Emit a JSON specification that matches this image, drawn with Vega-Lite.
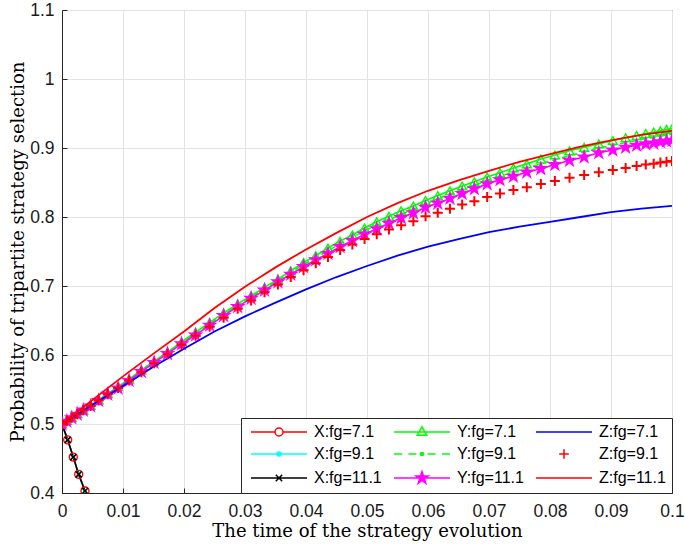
{
"$schema": "https://vega.github.io/schema/vega-lite/v6.json",
"width": 610, "height": 483,
"autosize": "none",
"padding": {"left": 62, "top": 10, "right": 13, "bottom": 54},
"background": "white",
"data": {"values": [
{"s":"X:fg=7.1","x":0,"y":0.5},{"s":"X:fg=7.1","x":0.00093,"y":0.477},{"s":"X:fg=7.1","x":0.00185,"y":0.452},{"s":"X:fg=7.1","x":0.00274,"y":0.427},{"s":"X:fg=7.1","x":0.00377,"y":0.403},
{"s":"X:fg=9.1","x":0,"y":0.5},{"s":"X:fg=9.1","x":0.00093,"y":0.477},{"s":"X:fg=9.1","x":0.00185,"y":0.452},{"s":"X:fg=9.1","x":0.00274,"y":0.427},{"s":"X:fg=9.1","x":0.00377,"y":0.403},
{"s":"X:fg=11.1","x":0,"y":0.5},{"s":"X:fg=11.1","x":0.00093,"y":0.477},{"s":"X:fg=11.1","x":0.00185,"y":0.452},{"s":"X:fg=11.1","x":0.00274,"y":0.427},{"s":"X:fg=11.1","x":0.00377,"y":0.403},
{"s":"Y:fg=7.1","x":0,"y":0.5},{"s":"Y:fg=7.1","x":0.0008,"y":0.505},{"s":"Y:fg=7.1","x":0.0016,"y":0.509},{"s":"Y:fg=7.1","x":0.0025,"y":0.515},{"s":"Y:fg=7.1","x":0.0035,"y":0.52},{"s":"Y:fg=7.1","x":0.0047,"y":0.527},{"s":"Y:fg=7.1","x":0.006,"y":0.535},{"s":"Y:fg=7.1","x":0.0075,"y":0.544},{"s":"Y:fg=7.1","x":0.0092,"y":0.554},{"s":"Y:fg=7.1","x":0.011,"y":0.565},{"s":"Y:fg=7.1","x":0.013,"y":0.578},{"s":"Y:fg=7.1","x":0.0151,"y":0.591},{"s":"Y:fg=7.1","x":0.0173,"y":0.604},{"s":"Y:fg=7.1","x":0.0196,"y":0.619},{"s":"Y:fg=7.1","x":0.0219,"y":0.633},{"s":"Y:fg=7.1","x":0.0242,"y":0.647},{"s":"Y:fg=7.1","x":0.0265,"y":0.661},{"s":"Y:fg=7.1","x":0.0288,"y":0.674},{"s":"Y:fg=7.1","x":0.031,"y":0.686},{"s":"Y:fg=7.1","x":0.0332,"y":0.698},{"s":"Y:fg=7.1","x":0.0354,"y":0.71},{"s":"Y:fg=7.1","x":0.0375,"y":0.722},{"s":"Y:fg=7.1","x":0.0396,"y":0.734},{"s":"Y:fg=7.1","x":0.0416,"y":0.744},{"s":"Y:fg=7.1","x":0.0436,"y":0.755},{"s":"Y:fg=7.1","x":0.0456,"y":0.765},{"s":"Y:fg=7.1","x":0.0476,"y":0.774},{"s":"Y:fg=7.1","x":0.0496,"y":0.784},{"s":"Y:fg=7.1","x":0.0516,"y":0.793},{"s":"Y:fg=7.1","x":0.0536,"y":0.801},{"s":"Y:fg=7.1","x":0.0556,"y":0.809},{"s":"Y:fg=7.1","x":0.0576,"y":0.816},{"s":"Y:fg=7.1","x":0.0596,"y":0.824},{"s":"Y:fg=7.1","x":0.0616,"y":0.831},{"s":"Y:fg=7.1","x":0.0636,"y":0.838},{"s":"Y:fg=7.1","x":0.0656,"y":0.845},{"s":"Y:fg=7.1","x":0.0676,"y":0.851},{"s":"Y:fg=7.1","x":0.0697,"y":0.858},{"s":"Y:fg=7.1","x":0.0718,"y":0.864},{"s":"Y:fg=7.1","x":0.074,"y":0.871},{"s":"Y:fg=7.1","x":0.0762,"y":0.877},{"s":"Y:fg=7.1","x":0.0785,"y":0.884},{"s":"Y:fg=7.1","x":0.0808,"y":0.89},{"s":"Y:fg=7.1","x":0.0832,"y":0.896},{"s":"Y:fg=7.1","x":0.0856,"y":0.901},{"s":"Y:fg=7.1","x":0.088,"y":0.906},{"s":"Y:fg=7.1","x":0.0903,"y":0.911},{"s":"Y:fg=7.1","x":0.0924,"y":0.915},{"s":"Y:fg=7.1","x":0.0942,"y":0.918},{"s":"Y:fg=7.1","x":0.0957,"y":0.921},{"s":"Y:fg=7.1","x":0.097,"y":0.923},{"s":"Y:fg=7.1","x":0.0981,"y":0.925},{"s":"Y:fg=7.1","x":0.0991,"y":0.927},{"s":"Y:fg=7.1","x":0.1,"y":0.928},
{"s":"Y:fg=9.1","x":0,"y":0.5},{"s":"Y:fg=9.1","x":0.0008,"y":0.505},{"s":"Y:fg=9.1","x":0.0016,"y":0.509},{"s":"Y:fg=9.1","x":0.0025,"y":0.515},{"s":"Y:fg=9.1","x":0.0035,"y":0.52},{"s":"Y:fg=9.1","x":0.0047,"y":0.527},{"s":"Y:fg=9.1","x":0.006,"y":0.535},{"s":"Y:fg=9.1","x":0.0075,"y":0.544},{"s":"Y:fg=9.1","x":0.0092,"y":0.553},{"s":"Y:fg=9.1","x":0.011,"y":0.564},{"s":"Y:fg=9.1","x":0.013,"y":0.577},{"s":"Y:fg=9.1","x":0.0151,"y":0.59},{"s":"Y:fg=9.1","x":0.0173,"y":0.603},{"s":"Y:fg=9.1","x":0.0196,"y":0.618},{"s":"Y:fg=9.1","x":0.0219,"y":0.631},{"s":"Y:fg=9.1","x":0.0242,"y":0.645},{"s":"Y:fg=9.1","x":0.0265,"y":0.659},{"s":"Y:fg=9.1","x":0.0288,"y":0.672},{"s":"Y:fg=9.1","x":0.031,"y":0.684},{"s":"Y:fg=9.1","x":0.0332,"y":0.696},{"s":"Y:fg=9.1","x":0.0354,"y":0.708},{"s":"Y:fg=9.1","x":0.0375,"y":0.72},{"s":"Y:fg=9.1","x":0.0396,"y":0.731},{"s":"Y:fg=9.1","x":0.0416,"y":0.741},{"s":"Y:fg=9.1","x":0.0436,"y":0.751},{"s":"Y:fg=9.1","x":0.0456,"y":0.761},{"s":"Y:fg=9.1","x":0.0476,"y":0.77},{"s":"Y:fg=9.1","x":0.0496,"y":0.78},{"s":"Y:fg=9.1","x":0.0516,"y":0.788},{"s":"Y:fg=9.1","x":0.0536,"y":0.796},{"s":"Y:fg=9.1","x":0.0556,"y":0.804},{"s":"Y:fg=9.1","x":0.0576,"y":0.811},{"s":"Y:fg=9.1","x":0.0596,"y":0.819},{"s":"Y:fg=9.1","x":0.0616,"y":0.826},{"s":"Y:fg=9.1","x":0.0636,"y":0.833},{"s":"Y:fg=9.1","x":0.0656,"y":0.84},{"s":"Y:fg=9.1","x":0.0676,"y":0.846},{"s":"Y:fg=9.1","x":0.0697,"y":0.853},{"s":"Y:fg=9.1","x":0.0718,"y":0.859},{"s":"Y:fg=9.1","x":0.074,"y":0.865},{"s":"Y:fg=9.1","x":0.0762,"y":0.871},{"s":"Y:fg=9.1","x":0.0785,"y":0.877},{"s":"Y:fg=9.1","x":0.0808,"y":0.883},{"s":"Y:fg=9.1","x":0.0832,"y":0.889},{"s":"Y:fg=9.1","x":0.0856,"y":0.894},{"s":"Y:fg=9.1","x":0.088,"y":0.9},{"s":"Y:fg=9.1","x":0.0903,"y":0.904},{"s":"Y:fg=9.1","x":0.0924,"y":0.908},{"s":"Y:fg=9.1","x":0.0942,"y":0.911},{"s":"Y:fg=9.1","x":0.0957,"y":0.914},{"s":"Y:fg=9.1","x":0.097,"y":0.915},{"s":"Y:fg=9.1","x":0.0981,"y":0.917},{"s":"Y:fg=9.1","x":0.0991,"y":0.919},{"s":"Y:fg=9.1","x":0.1,"y":0.92},
{"s":"Y:fg=11.1","x":0,"y":0.5},{"s":"Y:fg=11.1","x":0.0008,"y":0.504},{"s":"Y:fg=11.1","x":0.0016,"y":0.509},{"s":"Y:fg=11.1","x":0.0025,"y":0.514},{"s":"Y:fg=11.1","x":0.0035,"y":0.52},{"s":"Y:fg=11.1","x":0.0047,"y":0.526},{"s":"Y:fg=11.1","x":0.006,"y":0.534},{"s":"Y:fg=11.1","x":0.0075,"y":0.543},{"s":"Y:fg=11.1","x":0.0092,"y":0.552},{"s":"Y:fg=11.1","x":0.011,"y":0.563},{"s":"Y:fg=11.1","x":0.013,"y":0.576},{"s":"Y:fg=11.1","x":0.0151,"y":0.589},{"s":"Y:fg=11.1","x":0.0173,"y":0.602},{"s":"Y:fg=11.1","x":0.0196,"y":0.616},{"s":"Y:fg=11.1","x":0.0219,"y":0.629},{"s":"Y:fg=11.1","x":0.0242,"y":0.643},{"s":"Y:fg=11.1","x":0.0265,"y":0.657},{"s":"Y:fg=11.1","x":0.0288,"y":0.67},{"s":"Y:fg=11.1","x":0.031,"y":0.682},{"s":"Y:fg=11.1","x":0.0332,"y":0.694},{"s":"Y:fg=11.1","x":0.0354,"y":0.706},{"s":"Y:fg=11.1","x":0.0375,"y":0.717},{"s":"Y:fg=11.1","x":0.0396,"y":0.728},{"s":"Y:fg=11.1","x":0.0416,"y":0.738},{"s":"Y:fg=11.1","x":0.0436,"y":0.747},{"s":"Y:fg=11.1","x":0.0456,"y":0.757},{"s":"Y:fg=11.1","x":0.0476,"y":0.766},{"s":"Y:fg=11.1","x":0.0496,"y":0.775},{"s":"Y:fg=11.1","x":0.0516,"y":0.783},{"s":"Y:fg=11.1","x":0.0536,"y":0.791},{"s":"Y:fg=11.1","x":0.0556,"y":0.799},{"s":"Y:fg=11.1","x":0.0576,"y":0.806},{"s":"Y:fg=11.1","x":0.0596,"y":0.814},{"s":"Y:fg=11.1","x":0.0616,"y":0.82},{"s":"Y:fg=11.1","x":0.0636,"y":0.827},{"s":"Y:fg=11.1","x":0.0656,"y":0.834},{"s":"Y:fg=11.1","x":0.0676,"y":0.841},{"s":"Y:fg=11.1","x":0.0697,"y":0.848},{"s":"Y:fg=11.1","x":0.0718,"y":0.854},{"s":"Y:fg=11.1","x":0.074,"y":0.859},{"s":"Y:fg=11.1","x":0.0762,"y":0.865},{"s":"Y:fg=11.1","x":0.0785,"y":0.87},{"s":"Y:fg=11.1","x":0.0808,"y":0.876},{"s":"Y:fg=11.1","x":0.0832,"y":0.882},{"s":"Y:fg=11.1","x":0.0856,"y":0.887},{"s":"Y:fg=11.1","x":0.088,"y":0.893},{"s":"Y:fg=11.1","x":0.0903,"y":0.897},{"s":"Y:fg=11.1","x":0.0924,"y":0.901},{"s":"Y:fg=11.1","x":0.0942,"y":0.904},{"s":"Y:fg=11.1","x":0.0957,"y":0.906},{"s":"Y:fg=11.1","x":0.097,"y":0.907},{"s":"Y:fg=11.1","x":0.0981,"y":0.909},{"s":"Y:fg=11.1","x":0.0991,"y":0.91},{"s":"Y:fg=11.1","x":0.1,"y":0.911},
{"s":"Z:fg=9.1","x":0,"y":0.5},{"s":"Z:fg=9.1","x":0.0008,"y":0.504},{"s":"Z:fg=9.1","x":0.0016,"y":0.509},{"s":"Z:fg=9.1","x":0.0025,"y":0.514},{"s":"Z:fg=9.1","x":0.0035,"y":0.52},{"s":"Z:fg=9.1","x":0.0047,"y":0.526},{"s":"Z:fg=9.1","x":0.006,"y":0.534},{"s":"Z:fg=9.1","x":0.0075,"y":0.543},{"s":"Z:fg=9.1","x":0.0092,"y":0.552},{"s":"Z:fg=9.1","x":0.011,"y":0.563},{"s":"Z:fg=9.1","x":0.013,"y":0.575},{"s":"Z:fg=9.1","x":0.0151,"y":0.588},{"s":"Z:fg=9.1","x":0.0173,"y":0.601},{"s":"Z:fg=9.1","x":0.0196,"y":0.615},{"s":"Z:fg=9.1","x":0.0219,"y":0.628},{"s":"Z:fg=9.1","x":0.0242,"y":0.641},{"s":"Z:fg=9.1","x":0.0265,"y":0.654},{"s":"Z:fg=9.1","x":0.0288,"y":0.667},{"s":"Z:fg=9.1","x":0.031,"y":0.679},{"s":"Z:fg=9.1","x":0.0332,"y":0.691},{"s":"Z:fg=9.1","x":0.0354,"y":0.702},{"s":"Z:fg=9.1","x":0.0375,"y":0.713},{"s":"Z:fg=9.1","x":0.0396,"y":0.723},{"s":"Z:fg=9.1","x":0.0416,"y":0.733},{"s":"Z:fg=9.1","x":0.0436,"y":0.742},{"s":"Z:fg=9.1","x":0.0456,"y":0.752},{"s":"Z:fg=9.1","x":0.0476,"y":0.76},{"s":"Z:fg=9.1","x":0.0496,"y":0.768},{"s":"Z:fg=9.1","x":0.0516,"y":0.775},{"s":"Z:fg=9.1","x":0.0536,"y":0.782},{"s":"Z:fg=9.1","x":0.0556,"y":0.788},{"s":"Z:fg=9.1","x":0.0576,"y":0.794},{"s":"Z:fg=9.1","x":0.0596,"y":0.801},{"s":"Z:fg=9.1","x":0.0616,"y":0.806},{"s":"Z:fg=9.1","x":0.0636,"y":0.812},{"s":"Z:fg=9.1","x":0.0656,"y":0.818},{"s":"Z:fg=9.1","x":0.0676,"y":0.823},{"s":"Z:fg=9.1","x":0.0697,"y":0.829},{"s":"Z:fg=9.1","x":0.0718,"y":0.834},{"s":"Z:fg=9.1","x":0.074,"y":0.839},{"s":"Z:fg=9.1","x":0.0762,"y":0.843},{"s":"Z:fg=9.1","x":0.0785,"y":0.848},{"s":"Z:fg=9.1","x":0.0808,"y":0.852},{"s":"Z:fg=9.1","x":0.0832,"y":0.857},{"s":"Z:fg=9.1","x":0.0856,"y":0.861},{"s":"Z:fg=9.1","x":0.088,"y":0.865},{"s":"Z:fg=9.1","x":0.0903,"y":0.868},{"s":"Z:fg=9.1","x":0.0924,"y":0.871},{"s":"Z:fg=9.1","x":0.0942,"y":0.874},{"s":"Z:fg=9.1","x":0.0957,"y":0.876},{"s":"Z:fg=9.1","x":0.097,"y":0.877},{"s":"Z:fg=9.1","x":0.0981,"y":0.879},{"s":"Z:fg=9.1","x":0.0991,"y":0.88},{"s":"Z:fg=9.1","x":0.1,"y":0.881},
{"s":"Z:fg=7.1","x":0,"y":0.5},{"s":"Z:fg=7.1","x":0.005,"y":0.528},{"s":"Z:fg=7.1","x":0.01,"y":0.555},{"s":"Z:fg=7.1","x":0.015,"y":0.583},{"s":"Z:fg=7.1","x":0.02,"y":0.609},{"s":"Z:fg=7.1","x":0.025,"y":0.634},{"s":"Z:fg=7.1","x":0.03,"y":0.656},{"s":"Z:fg=7.1","x":0.035,"y":0.676},{"s":"Z:fg=7.1","x":0.04,"y":0.695},{"s":"Z:fg=7.1","x":0.045,"y":0.713},{"s":"Z:fg=7.1","x":0.05,"y":0.729},{"s":"Z:fg=7.1","x":0.055,"y":0.744},{"s":"Z:fg=7.1","x":0.06,"y":0.757},{"s":"Z:fg=7.1","x":0.065,"y":0.768},{"s":"Z:fg=7.1","x":0.07,"y":0.778},{"s":"Z:fg=7.1","x":0.075,"y":0.786},{"s":"Z:fg=7.1","x":0.08,"y":0.793},{"s":"Z:fg=7.1","x":0.085,"y":0.8},{"s":"Z:fg=7.1","x":0.09,"y":0.807},{"s":"Z:fg=7.1","x":0.095,"y":0.812},{"s":"Z:fg=7.1","x":0.1,"y":0.816},
{"s":"Z:fg=11.1","x":0,"y":0.5},{"s":"Z:fg=11.1","x":0.005,"y":0.535},{"s":"Z:fg=11.1","x":0.01,"y":0.569},{"s":"Z:fg=11.1","x":0.015,"y":0.602},{"s":"Z:fg=11.1","x":0.02,"y":0.634},{"s":"Z:fg=11.1","x":0.025,"y":0.668},{"s":"Z:fg=11.1","x":0.03,"y":0.699},{"s":"Z:fg=11.1","x":0.035,"y":0.727},{"s":"Z:fg=11.1","x":0.04,"y":0.753},{"s":"Z:fg=11.1","x":0.045,"y":0.777},{"s":"Z:fg=11.1","x":0.05,"y":0.8},{"s":"Z:fg=11.1","x":0.055,"y":0.82},{"s":"Z:fg=11.1","x":0.06,"y":0.838},{"s":"Z:fg=11.1","x":0.065,"y":0.853},{"s":"Z:fg=11.1","x":0.07,"y":0.867},{"s":"Z:fg=11.1","x":0.075,"y":0.88},{"s":"Z:fg=11.1","x":0.08,"y":0.891},{"s":"Z:fg=11.1","x":0.085,"y":0.902},{"s":"Z:fg=11.1","x":0.09,"y":0.911},{"s":"Z:fg=11.1","x":0.095,"y":0.919},{"s":"Z:fg=11.1","x":0.1,"y":0.925}
]},
"encoding": {
  "x": {"field": "x", "type": "quantitative", "scale": {"domain": [0, 0.1], "nice": false, "zero": false},
        "axis": {"values": [0,0.01,0.02,0.03,0.04,0.05,0.06,0.07,0.08,0.09,0.1], "format": "~g", "title": "The time of the strategy evolution", "grid": true, "labelPadding": 14, "titlePadding": 3}},
  "y": {"field": "y", "type": "quantitative", "scale": {"domain": [0.4, 1.1], "nice": false, "zero": false},
        "axis": {"values": [0.4,0.5,0.6,0.7,0.8,0.9,1,1.1], "format": "~g", "title": "Probability of tripartite strategy selection", "grid": true, "labelPadding": 13, "titlePadding": 2}}
},
"layer": [
  {"transform": [{"filter": {"field": "s", "equal": "X:fg=7.1"}}], "mark": {"type": "line", "strokeWidth": 1.6, "clip": true, "color": "#ff0000"}},
  {"transform": [{"filter": {"field": "s", "equal": "X:fg=9.1"}}], "mark": {"type": "line", "strokeWidth": 1.6, "clip": true, "color": "#00ffff"}},
  {"transform": [{"filter": {"field": "s", "equal": "X:fg=11.1"}}], "mark": {"type": "line", "strokeWidth": 1.6, "clip": true, "color": "#000000"}},
  {"transform": [{"filter": {"field": "s", "equal": "X:fg=7.1"}}], "mark": {"type": "point", "shape": "circle", "size": 64, "filled": false, "strokeWidth": 1.4, "opacity": 1, "clip": true, "color": "#ff0000"}},
  {"transform": [{"filter": {"field": "s", "equal": "X:fg=9.1"}}], "mark": {"type": "point", "shape": "circle", "size": 16, "filled": true, "opacity": 1, "clip": true, "color": "#00ffff"}},
  {"transform": [{"filter": {"field": "s", "equal": "X:fg=11.1"}}], "mark": {"type": "point", "shape": "M-1,-1L1,1M1,-1L-1,1", "size": 36, "filled": false, "strokeWidth": 1.5, "opacity": 1, "clip": true, "color": "#000000"}},
  {"transform": [{"filter": {"field": "s", "equal": "Y:fg=7.1"}}], "mark": {"type": "line", "strokeWidth": 1.6, "clip": true, "color": "#00ff00"}},
  {"transform": [{"filter": {"field": "s", "equal": "Y:fg=7.1"}}], "mark": {"type": "point", "shape": "triangle-up", "size": 80, "filled": false, "strokeWidth": 1.4, "opacity": 1, "clip": true, "color": "#00ff00"}},
  {"transform": [{"filter": {"field": "s", "equal": "Y:fg=9.1"}}], "mark": {"type": "line", "strokeWidth": 1.6, "strokeDash": [6, 4], "clip": true, "color": "#00ff00"}},
  {"transform": [{"filter": {"field": "s", "equal": "Y:fg=9.1"}}], "mark": {"type": "point", "shape": "circle", "size": 10, "filled": true, "opacity": 1, "clip": true, "color": "#00ff00"}},
  {"transform": [{"filter": {"field": "s", "equal": "Y:fg=11.1"}}], "mark": {"type": "line", "strokeWidth": 1.6, "clip": true, "color": "#ff00ff"}},
  {"transform": [{"filter": {"field": "s", "equal": "Y:fg=11.1"}}], "mark": {"type": "point", "shape": "M0,-1L0.225,-0.309L0.951,-0.309L0.363,0.118L0.588,0.809L0,0.382L-0.588,0.809L-0.363,0.118L-0.951,-0.309L-0.225,-0.309Z", "size": 280, "filled": true, "opacity": 1, "clip": true, "color": "#ff00ff"}},
  {"transform": [{"filter": {"field": "s", "equal": "Z:fg=7.1"}}], "mark": {"type": "line", "strokeWidth": 1.8, "clip": true, "color": "#0000ff"}},
  {"transform": [{"filter": {"field": "s", "equal": "Z:fg=9.1"}}], "mark": {"type": "point", "shape": "M-1,0H1M0,-1V1", "size": 100, "filled": false, "strokeWidth": 2, "opacity": 1, "clip": true, "color": "#ff0000"}},
  {"transform": [{"filter": {"field": "s", "equal": "Z:fg=11.1"}}], "mark": {"type": "line", "strokeWidth": 1.8, "clip": true, "color": "#ff0000"}},
  {"transform": [{"filter": "false"}],
   "mark": {"type": "point", "size": 64, "filled": false, "strokeWidth": 1.5, "opacity": 1, "clip": true},
   "encoding": {
     "fill": {"field": "s", "type": "nominal",
       "scale": {"domain": ["X:fg=7.1","X:fg=9.1","X:fg=11.1","Y:fg=7.1","Y:fg=9.1","Y:fg=11.1","Z:fg=7.1","Z:fg=9.1","Z:fg=11.1"],
                 "range": ["transparent","#00ffff","transparent","transparent","#00ff00","#ff00ff","transparent","transparent","transparent"]},
       "legend": {"title": null, "orient": "bottom-right", "offset": 0, "columns": 3,
         "padding": 6, "rowPadding": 6, "columnPadding": 8, "fillColor": "white", "strokeColor": "#262626",
         "symbolSize": 64, "symbolStrokeWidth": 1.5, "labelFont": "Liberation Sans", "labelFontSize": 16, "labelColor": "#000000",
         "labelOffset": 51}},
     "stroke": {"field": "s", "type": "nominal",
       "scale": {"domain": ["X:fg=7.1","X:fg=9.1","X:fg=11.1","Y:fg=7.1","Y:fg=9.1","Y:fg=11.1","Z:fg=7.1","Z:fg=9.1","Z:fg=11.1"],
                 "range": ["#ff0000","#00ffff","#000000","#00ff00","#00ff00","#ff00ff","#0000ff","#ff0000","#ff0000"]}},
     "shape": {"field": "s", "type": "nominal",
       "scale": {"domain": ["X:fg=7.1","X:fg=9.1","X:fg=11.1","Y:fg=7.1","Y:fg=9.1","Y:fg=11.1","Z:fg=7.1","Z:fg=9.1","Z:fg=11.1"],
                 "range": ["M-1,0H5M7,0H13M5,0A1,1 0 1,1 7,0A1,1 0 1,1 5,0",
                           "M-1,0H13M5.5,0A0.5,0.5 0 1,1 6.5,0A0.5,0.5 0 1,1 5.5,0",
                           "M-1,0H13M5.2,-0.8L6.8,0.8M6.8,-0.8L5.2,0.8",
                           "M-1,0H13M6,-1.3L7.2,0.8L4.8,0.8Z",
                           "M-1,0H1M2.6,0H4.6M7.4,0H9.4M11,0H13M5.6,0A0.4,0.4 0 1,1 6.4,0A0.4,0.4 0 1,1 5.6,0",
                           "M-1,0H13M6,-1.6L6.36,-0.494L7.522,-0.494L6.581,0.189L6.941,1.294L6,0.611L5.059,1.294L5.419,0.189L4.478,-0.494L5.64,-0.494Z",
                           "M-1,0H13",
                           "M-1,0M13,0M4.8,0H7.2M6,-1.2V1.2",
                           "M-1,0H13"]}}
   }}
],
"config": {
  "view": {"stroke": "#262626", "strokeWidth": 1},
  "axis": {"labelFont": "Liberation Sans", "labelFontSize": 17.5, "labelColor": "#1a1a1a", "titleFont": "DejaVu Serif", "titleFontSize": 18, "titleFontWeight": "normal", "titleColor": "#000000", "domainColor": "#262626", "domainWidth": 1, "tickColor": "#262626", "tickSize": -5, "gridColor": "#e3e3e3", "gridWidth": 1, "labelFlush": false, "labelOverlap": false}
}
}
